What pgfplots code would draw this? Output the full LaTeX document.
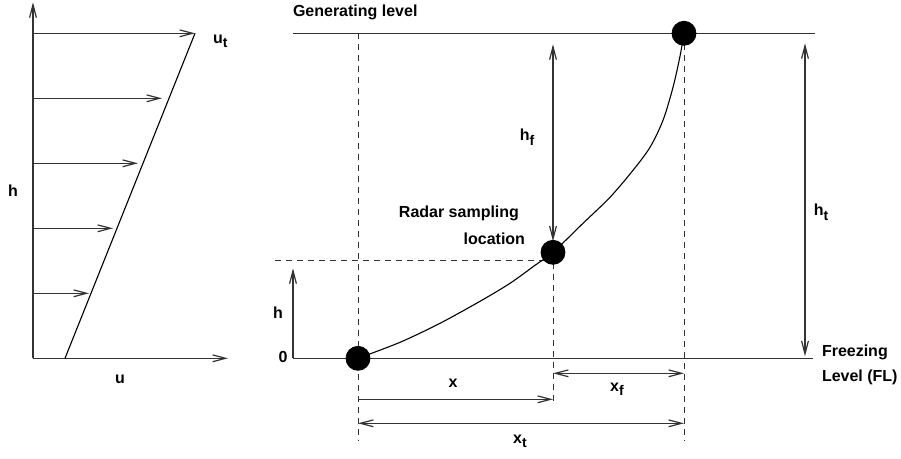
\documentclass[border=0pt]{standalone}
\usepackage{pgfplots}
\pgfplotsset{compat=1.18}
\usepackage{fontspec}
\setmainfont{Liberation Sans}
\usetikzlibrary{arrows.meta}
\newcommand{\sub}[2]{#1\raisebox{-2.2pt}{\fontsize{7}{8}\selectfont\bfseries #2}}
\tikzset{lbl/.style={font=\fontsize{8}{9.6}\selectfont\bfseries, inner sep=0pt, outer sep=0pt}}
\begin{document}
\begin{tikzpicture}[>={Straight Barb[length=6.5pt,width=3.4pt]}]
\begin{axis}[
  width=450.5pt, height=229pt, scale only axis,
  xmin=0, xmax=901, ymin=0, ymax=458, y dir=reverse,
  hide axis, clip=false,
]
\pgfplotsset{ln/.style={line width=0.6pt, black!80, mark=none, solid},
  dsh/.style={line width=0.5pt, black!80, mark=none, dash pattern=on 3pt off 2.5pt}}
% invisible frame so that the picture spans the whole area
\addplot[draw=none, mark=none] coordinates {(0,0) (901,458)};
% ---------- left panel ----------
\addplot[ln,->] coordinates {(33,358) (33,2)};
\addplot[ln,->] coordinates {(33,358) (228,358)};
\addplot[ln,black, line width=0.55pt] coordinates {(65,358) (195,33)};
\addplot[ln,->] coordinates {(33,33) (195,33)};
\addplot[ln,->] coordinates {(33,98) (162,98)};
\addplot[ln,->] coordinates {(33,163) (138,163)};
\addplot[ln,->] coordinates {(33,228) (113,228)};
\addplot[ln,->] coordinates {(33,293) (89,293)};
\node[lbl] at (axis cs:13,190) {h};
\node[lbl] at (axis cs:120,379) {u};
\node[lbl,anchor=west] at (axis cs:213,41) {\sub{u}{t}};
% ---------- right panel ----------
\addplot[ln] coordinates {(293,33) (815,33)};
\addplot[ln] coordinates {(293,358) (813,358)};
% dashed guides
\addplot[dsh] coordinates {(358,33) (358,441)};
\addplot[dsh] coordinates {(553,252) (553,405)};
\addplot[dsh] coordinates {(684,33) (684,441)};
\addplot[dsh] coordinates {(275,260) (553,260)};
% trajectory
\addplot[ln, black, line width=0.55pt, smooth] coordinates {
 (358,358) (400,342) (440,323) (480,301) (510,283) (535,265) (553,252)
 (583,223) (610,197) (633,170) (650,147) (663,120) (673,87) (680,56) (684,33)};
% dimension arrows
\addplot[ln,->] coordinates {(293,358) (293,268)};
\addplot[ln,<->] coordinates {(553,44) (553,241)};
\addplot[ln,<->] coordinates {(805,43) (805,356)};
\addplot[ln,->] coordinates {(358,399) (553,399)};
\addplot[ln,<->] coordinates {(553,373) (684,373)};
\addplot[ln,<->] coordinates {(358,423) (684,423)};
% dots
\addplot[only marks, mark=*, mark size=6pt, black] coordinates {(358,358) (553,252) (684,33)};
% labels
\node[lbl,anchor=west] at (axis cs:293,12) {Generating level};
\node[lbl] at (axis cs:283,357) {0};
\node[lbl] at (axis cs:278,312) {h};
\node[lbl,anchor=east] at (axis cs:519,213) {Radar sampling};
\node[lbl,anchor=east] at (axis cs:525,238) {location};
\node[lbl] at (axis cs:527,137) {\sub{h}{f}};
\node[lbl] at (axis cs:821,212) {\sub{h}{t}};
\node[lbl,anchor=west] at (axis cs:822,352) {Freezing};
\node[lbl,anchor=west] at (axis cs:822,377) {Level (FL)};
\node[lbl] at (axis cs:453,383) {x};
\node[lbl] at (axis cs:617,389) {\sub{x}{f}};
\node[lbl] at (axis cs:520,441) {\sub{x}{t}};
\end{axis}
\end{tikzpicture}
\end{document}
